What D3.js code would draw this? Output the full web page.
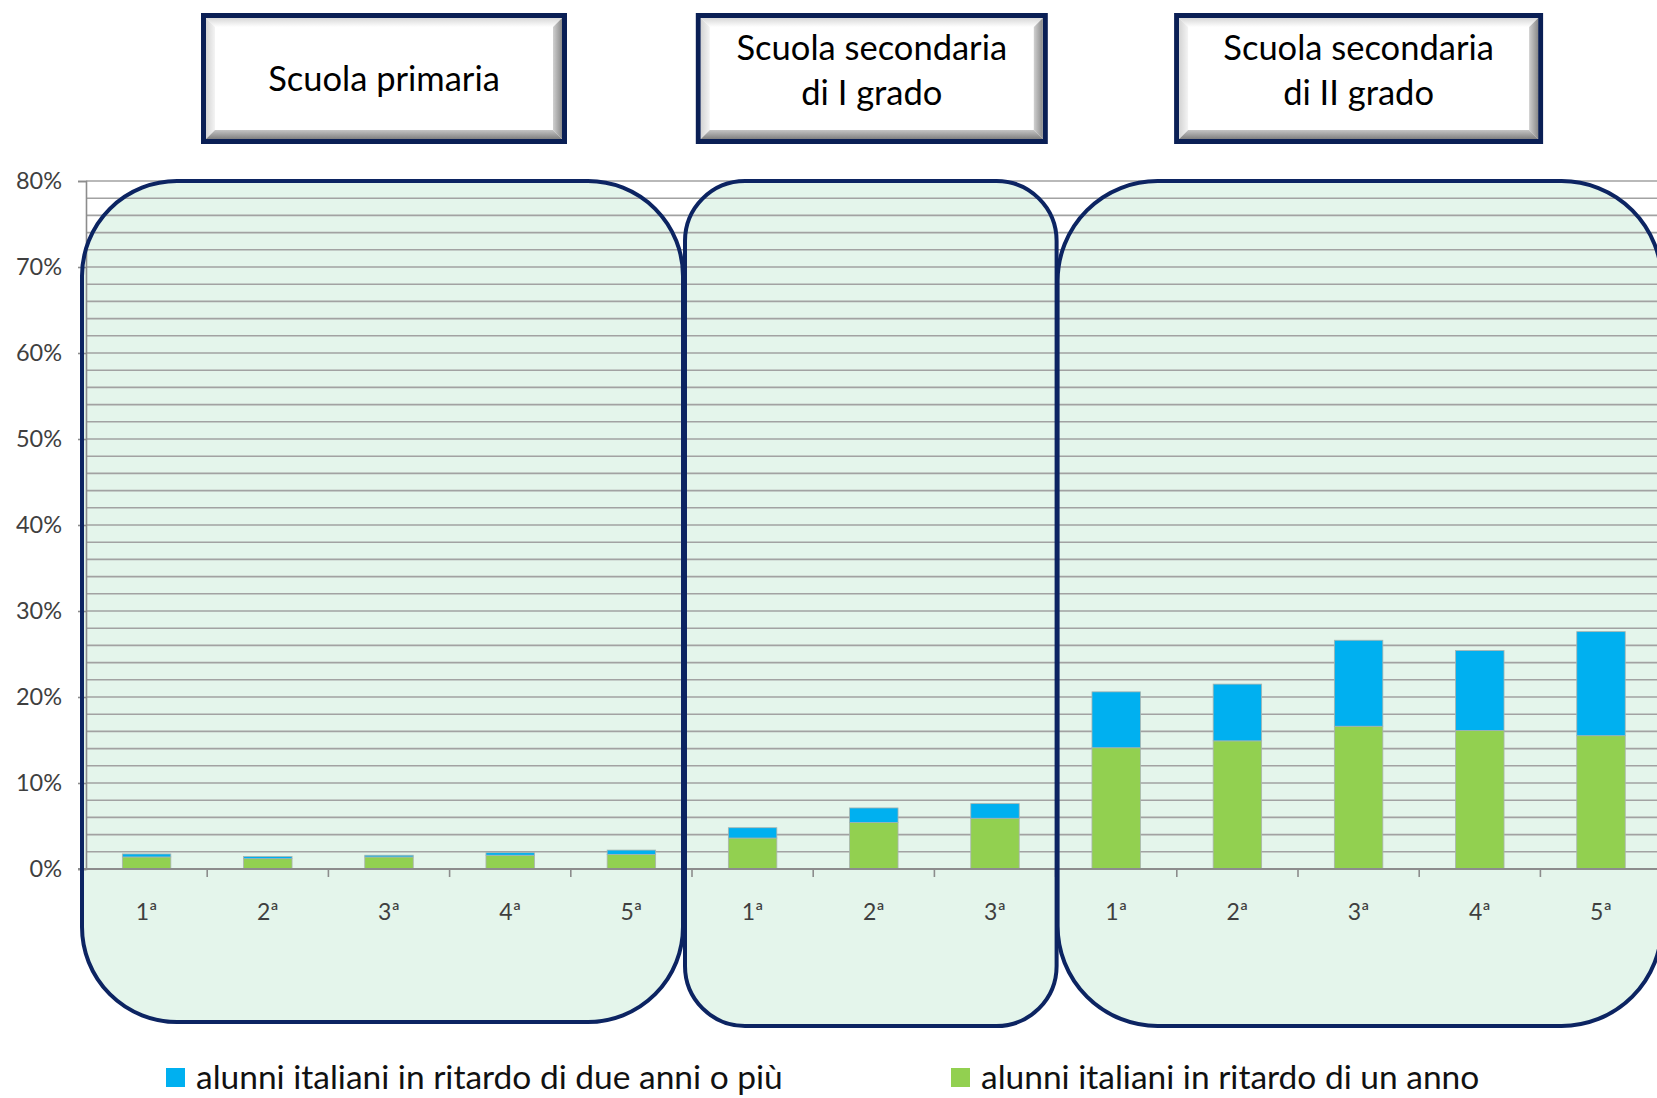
<!DOCTYPE html>
<html>
<head>
<meta charset="utf-8">
<script src="https://cdn.jsdelivr.net/npm/d3@7/dist/d3.min.js"></script>
<style>
  html, body { margin: 0; padding: 0; background: #ffffff; }
  svg { display: block; }
</style>
</head>
<body>
<script>
// ---------------- DATA ----------------
const categories = ["1ª", "2ª", "3ª", "4ª", "5ª", "1ª", "2ª", "3ª", "1ª", "2ª", "3ª", "4ª", "5ª"];
const groupNames = [["Scuola primaria"], ["Scuola secondaria", "di I grado"], ["Scuola secondaria", "di II grado"]];
const groupSizes = [5, 3, 5];
const seriesNames = ["alunni italiani in ritardo di due anni o più", "alunni italiani in ritardo di un anno"];
// one-year delay (green, bottom segment), in %
const ritardoUnAnno = [1.4, 1.2, 1.4, 1.6, 1.7, 3.6, 5.4, 5.9, 14.1, 14.9, 16.6, 16.1, 15.5];
// two or more years delay (blue, top segment), in %
const ritardoDueAnni = [0.35, 0.25, 0.2, 0.3, 0.5, 1.2, 1.7, 1.7, 6.5, 6.6, 10.0, 9.3, 12.1];
const yTicks = [0, 10, 20, 30, 40, 50, 60, 70, 80];
const yTickLabels = ["0%", "10%", "20%", "30%", "40%", "50%", "60%", "70%", "80%"];

// ---------------- LAYOUT ----------------
const W = 1657, H = 1098;
const plotLeft = 86, step = 121.2;
const plotRight = plotLeft + step * categories.length;
const yTop = 181, yBottom = 869;
const colBlue = "#00b0f0", colGreen = "#92d050";
const navy = "#0c2462", gridCol = "#a2a2a2", axisCol = "#8c8c8c";
const fontFam = "Lato, 'Open Sans', sans-serif";

const svg = d3.select("body").append("svg").attr("width", W).attr("height", H);

const x = d3.scaleBand().domain(d3.range(categories.length))
  .range([plotLeft, plotRight]).paddingInner(0.6).paddingOuter(0.3);
const y = d3.scaleLinear().domain([0, 80]).range([yBottom, yTop]);

// group boundaries derived from the band scale
let start = 0;
const groups = groupSizes.map((n, i) => {
  const g = { i, first: start, last: start + n - 1 };
  g.x0 = plotLeft + x.step() * start;
  g.x1 = plotLeft + x.step() * (start + n);
  start += n;
  return g;
});
const boxSpec = [
  { dx0: -4, dx1: -9, bottom: 1022, r: 95 },
  { dx0: -7, dx1: 1, bottom: 1026, r: 60 },
  { dx0: 2, dx1: 0, bottom: 1026, r: 100 }
];
function roundedPath(x0, y0, x1, y1, r) {
  const p = d3.path();
  p.moveTo(x0 + r, y0);
  p.lineTo(x1 - r, y0);
  p.arcTo(x1, y0, x1, y0 + r, r);
  p.lineTo(x1, y1 - r);
  p.arcTo(x1, y1, x1 - r, y1, r);
  p.lineTo(x0 + r, y1);
  p.arcTo(x0, y1, x0, y1 - r, r);
  p.lineTo(x0, y0 + r);
  p.arcTo(x0, y0, x0 + r, y0, r);
  p.closePath();
  return p.toString();
}
const boxPaths = groups.map((g, i) => {
  const s = boxSpec[i];
  return roundedPath(g.x0 + s.dx0, y(80), g.x1 + s.dx1, s.bottom, s.r);
});

// box fills (behind)
svg.append("g").selectAll("path").data(boxPaths).join("path")
  .attr("d", d => d).attr("fill", "#e4f5eb").attr("stroke", "none");

// gridlines every 2%
const gridVals = d3.range(2, 81, 2);
svg.append("g").selectAll("line").data(gridVals).join("line")
  .attr("x1", plotLeft).attr("x2", plotRight)
  .attr("y1", d => y(d)).attr("y2", d => y(d))
  .attr("stroke", gridCol).attr("stroke-width", 1.6);

// y axis
const yAxis = d3.axisLeft(y).tickValues(yTicks).tickFormat((d, i) => yTickLabels[i])
  .tickSize(8).tickPadding(16);
const gy = svg.append("g").attr("transform", `translate(${plotLeft},0)`).call(yAxis);
gy.select(".domain").attr("stroke", axisCol).attr("stroke-width", 1.6);
gy.selectAll(".tick line").attr("stroke", axisCol).attr("stroke-width", 1.6);
gy.selectAll(".tick text").attr("font-family", fontFam).attr("font-size", 23.5)
  .attr("fill", "#3f3f3f");

// stacked bars
const stackData = categories.map((c, i) => ({ i, green: ritardoUnAnno[i], blue: ritardoDueAnni[i] }));
const stack = d3.stack().keys(["green", "blue"])(stackData);
const colors = { green: colGreen, blue: colBlue };
svg.append("g").selectAll("g").data(stack).join("g")
  .attr("fill", d => colors[d.key])
  .selectAll("rect").data(d => d).join("rect")
  .attr("x", d => x(d.data.i))
  .attr("width", x.bandwidth())
  .attr("y", d => y(d[1]))
  .attr("height", d => y(d[0]) - y(d[1]))
  .attr("stroke", "#a9b4ae").attr("stroke-width", 0.8);

// x axis line + ticks at category boundaries
const gx = svg.append("g");
gx.append("line").attr("x1", plotLeft - 8).attr("x2", plotRight)
  .attr("y1", y(0)).attr("y2", y(0)).attr("stroke", axisCol).attr("stroke-width", 1.8);
gx.selectAll("line.t").data(d3.range(1, categories.length)).join("line").attr("class", "t")
  .attr("x1", k => plotLeft + k * x.step()).attr("x2", k => plotLeft + k * x.step())
  .attr("y1", y(0)).attr("y2", y(0) + 8).attr("stroke", axisCol).attr("stroke-width", 1.6);

// box strokes (on top)
svg.append("g").selectAll("path").data(boxPaths).join("path")
  .attr("d", d => d).attr("fill", "none").attr("stroke", navy).attr("stroke-width", 4);

// category labels
svg.append("g").selectAll("text").data(categories).join("text")
  .attr("x", (d, i) => x(i) + x.bandwidth() / 2)
  .attr("y", 920)
  .attr("text-anchor", "middle")
  .attr("font-family", fontFam).attr("font-size", 23).attr("fill", "#3f3f3f")
  .text(d => d);

// header bevel boxes
const headerW = [366, 352, 369];
const headerShift = [-5, -2, 0];
const hTop = 13, hBot = 144;
const defs = svg.append("defs");
const gTop = defs.append("linearGradient").attr("id", "gTop").attr("x1", 0).attr("y1", 0).attr("x2", 0).attr("y2", 1);
gTop.append("stop").attr("offset", 0).attr("stop-color", "#d8d8d8");
gTop.append("stop").attr("offset", 1).attr("stop-color", "#ffffff");
const gBot = defs.append("linearGradient").attr("id", "gBot").attr("x1", 0).attr("y1", 0).attr("x2", 0).attr("y2", 1);
gBot.append("stop").attr("offset", 0).attr("stop-color", "#c4c4c4");
gBot.append("stop").attr("offset", 1).attr("stop-color", "#808080");
const gRight = defs.append("linearGradient").attr("id", "gRight").attr("x1", 0).attr("y1", 0).attr("x2", 1).attr("y2", 0);
gRight.append("stop").attr("offset", 0).attr("stop-color", "#d0d0d0");
gRight.append("stop").attr("offset", 1).attr("stop-color", "#8a8a8a");
const gLeft = defs.append("linearGradient").attr("id", "gLeft").attr("x1", 0).attr("y1", 0).attr("x2", 1).attr("y2", 0);
gLeft.append("stop").attr("offset", 0).attr("stop-color", "#d4d4d4");
gLeft.append("stop").attr("offset", 1).attr("stop-color", "#f4f4f4");

groups.forEach((g, i) => {
  const cx = (g.x0 + g.x1) / 2 + headerShift[i];
  const w = headerW[i];
  const L = cx - w / 2, R = cx + w / 2;
  const hg = svg.append("g");
  hg.append("rect").attr("x", L).attr("y", hTop).attr("width", w).attr("height", hBot - hTop).attr("fill", "#0a1f55");
  const l = L + 5, r = R - 5, t = hTop + 5, b = hBot - 5, bv = 9;
  hg.append("rect").attr("x", l).attr("y", t).attr("width", r - l).attr("height", b - t).attr("fill", "#ffffff");
  const poly = (pts, fill) => hg.append("polygon").attr("points", pts.map(p => p.join(",")).join(" ")).attr("fill", fill);
  poly([[l, t], [r, t], [r - bv, t + bv], [l + bv, t + bv]], "url(#gTop)");
  poly([[l, t], [l + bv, t + bv], [l + bv, b - bv], [l, b]], "url(#gLeft)");
  poly([[r, t], [r, b], [r - bv, b - bv], [r - bv, t + bv]], "url(#gRight)");
  poly([[l, b], [l + bv, b - bv], [r - bv, b - bv], [r, b]], "url(#gBot)");
  const lines = groupNames[i];
  const lh = 45.5;
  const cy = lines.length > 1 ? 70.5 : 79;
  hg.append("g").selectAll("text").data(lines).join("text")
    .attr("x", cx)
    .attr("y", (d, k) => cy + (k - (lines.length - 1) / 2) * lh)
    .attr("dy", "0.35em")
    .attr("text-anchor", "middle")
    .attr("font-family", fontFam).attr("font-size", 34.5).attr("fill", "#000")
    .text(d => d);
});

// legend
const legendItems = [
  { name: seriesNames[0], color: colBlue, x: 166 },
  { name: seriesNames[1], color: colGreen, x: 951 }
];
const lg = svg.append("g").selectAll("g").data(legendItems).join("g")
  .attr("transform", d => `translate(${d.x},1068)`);
lg.append("rect").attr("width", 19).attr("height", 19).attr("fill", d => d.color);
lg.append("text").attr("x", 30).attr("y", 21)
  .attr("font-family", fontFam).attr("font-size", 33.5).attr("fill", "#111")
  .text(d => d.name);
</script>
</body>
</html>
